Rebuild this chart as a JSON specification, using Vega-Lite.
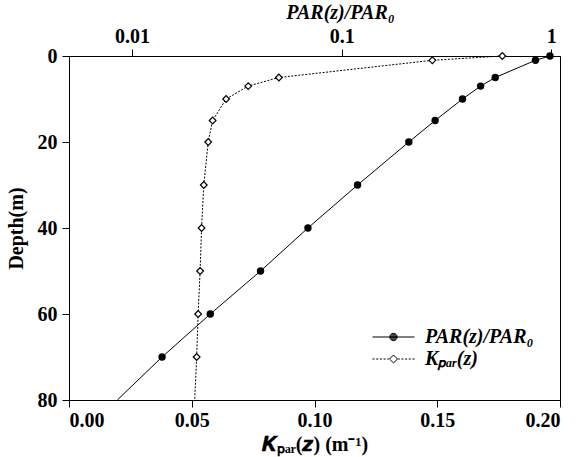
{
  "$schema": "https://vega.github.io/schema/vega-lite/v6.json",
  "autosize": {"type": "none"},
  "width": 491,
  "height": 344,
  "padding": {"left": 69, "top": 56, "right": 17, "bottom": 57},
  "config": {
    "font": "Liberation Serif",
    "view": {"stroke": "black", "strokeWidth": 1},
    "axis": {
      "grid": false,
      "domainColor": "black",
      "tickColor": "black",
      "labelColor": "black",
      "titleColor": "black",
      "labelFont": "Liberation Serif",
      "titleFont": "Liberation Serif",
      "labelFontSize": 20,
      "labelFontWeight": "bold",
      "titleFontSize": 20,
      "titleFontWeight": "bold",
      "tickSize": 7,
      "domainWidth": 1,
      "tickWidth": 1
    }
  },
  "datasets": {
    "par": [
      {"depth": 0, "value": 0.985},
      {"depth": 1, "value": 0.84},
      {"depth": 5, "value": 0.54},
      {"depth": 7, "value": 0.46},
      {"depth": 10, "value": 0.377},
      {"depth": 15, "value": 0.279},
      {"depth": 20, "value": 0.209},
      {"depth": 30, "value": 0.119},
      {"depth": 40, "value": 0.069},
      {"depth": 50, "value": 0.041},
      {"depth": 60, "value": 0.0236},
      {"depth": 70, "value": 0.0139},
      {"depth": 80, "value": 0.0085}
    ],
    "k": [
      {"depth": 0, "value": 0.1765},
      {"depth": 1, "value": 0.148},
      {"depth": 5, "value": 0.0855},
      {"depth": 7, "value": 0.073},
      {"depth": 10, "value": 0.064},
      {"depth": 15, "value": 0.0585},
      {"depth": 20, "value": 0.0567},
      {"depth": 30, "value": 0.0549},
      {"depth": 40, "value": 0.054},
      {"depth": 50, "value": 0.0534},
      {"depth": 60, "value": 0.0526},
      {"depth": 70, "value": 0.052},
      {"depth": 80, "value": 0.0512}
    ]
  },
  "layer": [
    {
      "data": {"name": "par"},
      "encoding": {
        "x": {
          "field": "value",
          "type": "quantitative",
          "scale": {"type": "log", "domain": [0.005, 1.1]},
          "axis": {
            "orient": "top",
            "values": [0.01, 0.1, 1],
            "format": "~g",
            "title": "PAR(z)/PAR₀",
            "titleFontStyle": "italic",
            "titleX": 271,
            "titlePadding": 4,
            "labelPadding": 3
          }
        },
        "y": {
          "field": "depth",
          "type": "quantitative",
          "scale": {"domain": [0, 80], "reverse": true},
          "axis": {
            "title": "Depth(m)",
            "values": [0, 20, 40, 60, 80],
            "labelPadding": 5,
            "titlePadding": 11
          }
        }
      },
      "layer": [
        {
          "mark": {"type": "line", "color": "black", "strokeWidth": 1},
          "encoding": {"order": {"field": "depth", "type": "quantitative"}}
        },
        {
          "transform": [{"filter": "datum.depth < 80"}],
          "mark": {"type": "point", "shape": "circle", "filled": true, "color": "black", "size": 55, "opacity": 1}
        }
      ]
    },
    {
      "data": {"name": "k"},
      "encoding": {
        "x": {
          "field": "value",
          "type": "quantitative",
          "scale": {"domain": [0, 0.2]},
          "axis": {
            "orient": "bottom",
            "values": [0, 0.05, 0.1, 0.15, 0.2],
            "format": ".2f",
            "title": "𝑲ₚₐᵣ(𝒛) (m⁻¹)",
            "titlePadding": 4,
            "labelPadding": 3
          }
        },
        "y": {
          "field": "depth",
          "type": "quantitative",
          "scale": {"domain": [0, 80], "reverse": true},
          "axis": {
            "title": "Depth(m)",
            "values": [0, 20, 40, 60, 80],
            "labelPadding": 5,
            "titlePadding": 11
          }
        }
      },
      "layer": [
        {
          "mark": {"type": "line", "color": "black", "strokeWidth": 1, "strokeDash": [2, 1.5]},
          "encoding": {"order": {"field": "depth", "type": "quantitative"}}
        },
        {
          "transform": [{"filter": "datum.depth < 80"}],
          "mark": {"type": "point", "shape": "diamond", "filled": true, "fill": "white", "stroke": "black", "strokeWidth": 1.2, "size": 45, "opacity": 1}
        },
        {
          "transform": [{"filter": "false"}],
          "mark": {"type": "point", "filled": false, "stroke": "black", "strokeWidth": 1, "size": 1764, "opacity": 1},
          "encoding": {
            "x": {"field": "value", "type": "quantitative"},
            "y": {"field": "depth", "type": "quantitative"},
            "shape": {
              "field": "series",
              "type": "nominal",
              "scale": {
                "domain": ["PAR(z)/PAR₀", "Kₚₐᵣ(z)"],
                "range": [
                  "M-1,0H1M0.025,0A0.025,0.025 0 1 1 -0.025,0A0.025,0.025 0 1 1 0.025,0M0.065,0A0.065,0.065 0 1 1 -0.065,0A0.065,0.065 0 1 1 0.065,0M0.105,0A0.105,0.105 0 1 1 -0.105,0A0.105,0.105 0 1 1 0.105,0M0.145,0A0.145,0.145 0 1 1 -0.145,0A0.145,0.145 0 1 1 0.145,0M0.175,0A0.175,0.175 0 1 1 -0.175,0A0.175,0.175 0 1 1 0.175,0",
                  "M-1,0H-0.9M-0.825,0H-0.725M-0.65,0H-0.55M-0.475,0H-0.375M-0.3,0H-0.22M-0.19,0L0,-0.19L0.19,0L0,0.19ZM0.22,0H0.3M0.375,0H0.475M0.55,0H0.65M0.725,0H0.825M0.9,0H1"
                ]
              },
              "legend": {
                "title": null,
                "orient": "none",
                "legendX": 303,
                "legendY": 270,
                "symbolSize": 1764,
                "symbolStrokeWidth": 1,
                "symbolStrokeColor": "black",
                "symbolFillColor": "transparent",
                "clipHeight": 22,
                "rowPadding": 0,
                "labelOffset": 10,
                "labelFont": "Liberation Serif",
                "labelFontSize": 20,
                "labelFontWeight": "bold",
                "labelFontStyle": "italic",
                "labelColor": "black",
                "labelLimit": 300
              }
            }
          }
        }
      ]
    }
  ],
  "resolve": {"scale": {"x": "independent"}, "axis": {"x": "independent"}}
}
